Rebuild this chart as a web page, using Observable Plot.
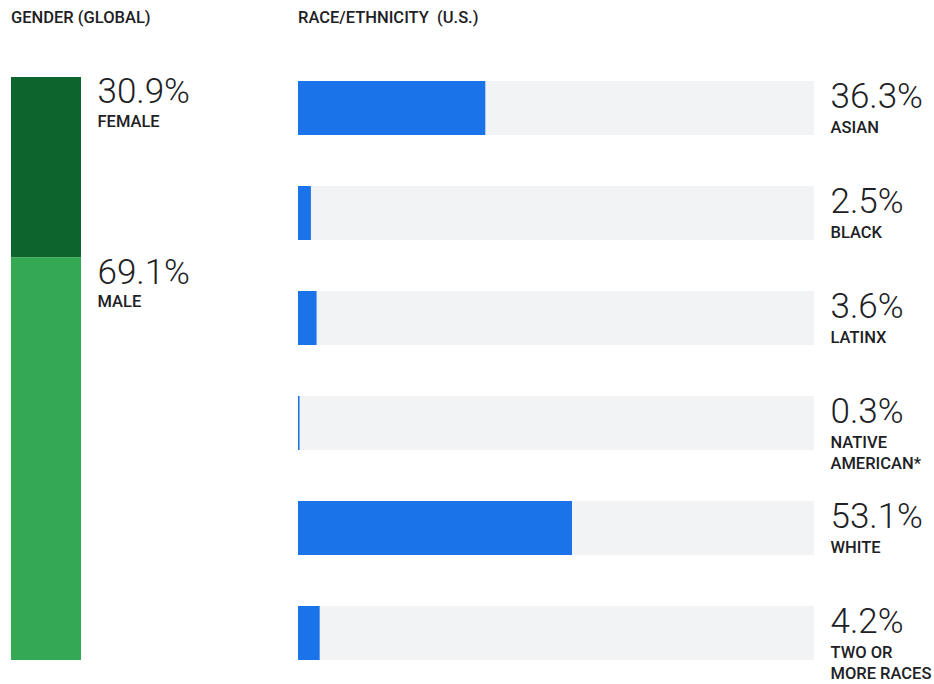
<!DOCTYPE html>
<html><head><meta charset="utf-8">
<script src="https://cdn.jsdelivr.net/npm/d3@7"></script>
<script src="https://cdn.jsdelivr.net/npm/@observablehq/plot@0.6"></script>
<style>
body{margin:0;background:#fff;font-family:Roboto,sans-serif;color:#202124}
#wrap{position:relative;width:934px;height:684px;overflow:hidden;background:#fff}
.title{position:absolute;top:10px;font-size:16.5px;font-weight:500;line-height:16px;white-space:pre;color:#202124}
#left{position:absolute;left:0;top:40px}
#right{position:absolute;left:290px;top:40px}
</style></head><body>
<div id="wrap">
<div class="title" style="left:11px">GENDER (GLOBAL)</div>
<div class="title" style="left:298px">RACE/ETHNICITY  (U.S.)</div>
<div id="left"></div><div id="right"></div>
</div>
<script>
const genderLabels = ["FEMALE", "MALE"];
const genderValues = [30.9, 69.1];
const genderColors = ["#0d652d", "#34a853"];
const raceLabels = ["ASIAN", "BLACK", "LATINX", "NATIVE\nAMERICAN*", "WHITE", "TWO OR\nMORE RACES"];
const raceValues = [36.3, 2.5, 3.6, 0.3, 53.1, 4.2];
const scaleMax = 100;

let acc = 0;
const gender = genderLabels.map((g, i) => {
  const y1 = acc; acc += genderValues[i];
  return {group: "Global", gender: g, value: genderValues[i], y1, y2: acc};
});
const race = raceLabels.map((r, i) => ({race: r, value: raceValues[i], total: scaleMax}));
const fmt = d => d.value.toFixed(1) + "%";

const left = Plot.plot({
  width: 290, height: 644,
  marginTop: 37, marginBottom: 24, marginLeft: 11, marginRight: 209,
  x: {type: "band", domain: ["Global"], padding: 0, axis: null},
  y: {domain: [0, scaleMax], reverse: true, axis: null},
  color: {domain: genderLabels, range: genderColors},
  style: {fontFamily: "Roboto, sans-serif", color: "#202124", background: "transparent"},
  marks: [
    Plot.barY(gender, {x: "group", y1: "y1", y2: "y2", fill: "gender"}),
    Plot.text(gender, {x: "group", y: "y1", text: fmt, textAnchor: "start", lineAnchor: "top", dx: 51, dy: 1, fontSize: 35, fontWeight: 300}),
    Plot.text(gender, {x: "group", y: "y1", text: "gender", textAnchor: "start", lineAnchor: "top", dx: 51, dy: 38, fontSize: 16.5, fontWeight: 500})
  ]
});
document.getElementById("left").appendChild(left);

const right = Plot.plot({
  width: 644, height: 644,
  marginTop: 40, marginBottom: 24, marginLeft: 8, marginRight: 120,
  x: {domain: [0, scaleMax], axis: null},
  y: {domain: raceLabels, paddingInner: 0.487, paddingOuter: 0, axis: null},
  style: {fontFamily: "Roboto, sans-serif", color: "#202124", background: "transparent", overflow: "visible"},
  marks: [
    Plot.barX(race, {y: "race", x: "total", fill: "#f1f3f4"}),
    Plot.barX(race, {y: "race", x: "value", fill: "#1a73e8"}),
    Plot.text(race, {y: "race", x: "total", text: fmt, textAnchor: "start", lineAnchor: "bottom", dx: 16, dy: -1, fontSize: 35, fontWeight: 300}),
    Plot.text(race, {y: "race", x: "total", text: "race", textAnchor: "start", lineAnchor: "top", dx: 16, dy: 9, fontSize: 16.5, fontWeight: 500, lineHeight: 1.3})
  ]
});
document.getElementById("right").appendChild(right);
</script>
</body></html>
